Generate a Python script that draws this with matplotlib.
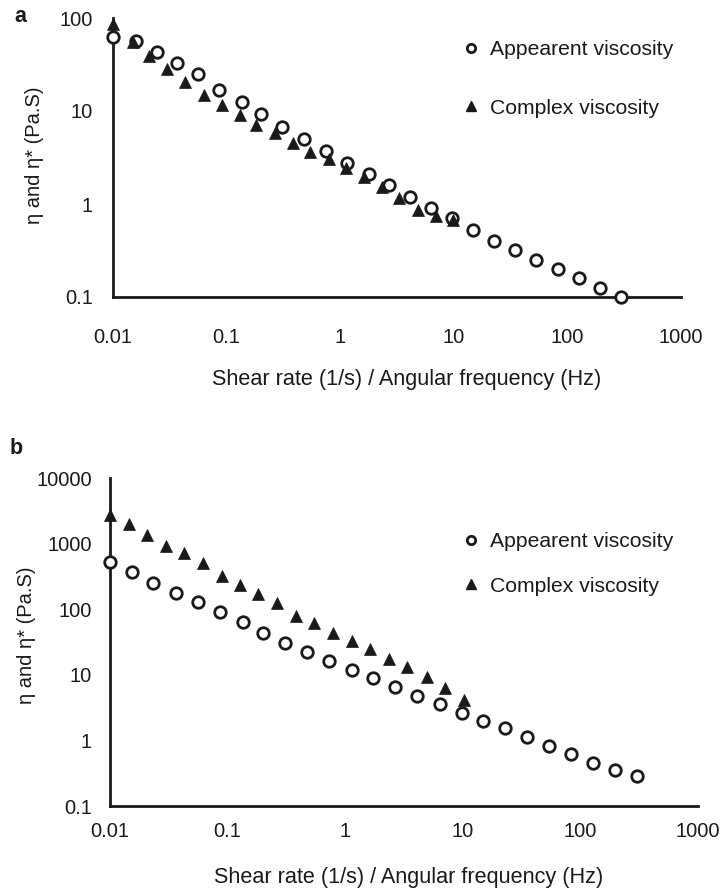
import matplotlib
matplotlib.use("Agg")
import matplotlib.pyplot as plt
from matplotlib.lines import Line2D

plt.rcParams['font.family'] = ['Liberation Sans', 'DejaVu Sans']

# ---- data -----------------------------------------------------------
x_ticks = [0.01, 0.1, 1, 10, 100, 1000]
x_tick_labels = ["0.01", "0.1", "1", "10", "100", "1000"]

# panel a
a_app_x = [0.01, 0.016, 0.0243, 0.0364, 0.0565, 0.0865, 0.136, 0.2, 0.31,
           0.48, 0.75, 1.15, 1.78, 2.67, 4.1, 6.3, 9.6, 14.8, 22.4, 34.4,
           53, 82, 126, 193, 297]
a_app_y = [63, 57, 43, 33, 25, 17, 12.6, 9.3, 6.7, 5.0, 3.74, 2.78, 2.1,
           1.6, 1.18, 0.90, 0.70, 0.525, 0.40, 0.32, 0.25, 0.20, 0.16,
           0.126, 0.10]
a_cpx_x = [0.01, 0.0151, 0.0209, 0.0297, 0.043, 0.0634, 0.091, 0.13, 0.182,
           0.267, 0.383, 0.545, 0.79, 1.13, 1.63, 2.33, 3.27, 4.8, 7.0, 9.8]
a_cpx_y = [86, 55.6, 39, 28, 20.6, 14.9, 11.6, 9.06, 7.07, 5.75, 4.56, 3.65,
           3.02, 2.42, 1.97, 1.53, 1.15, 0.86, 0.74, 0.67]
a_y_ticks = [0.1, 1, 10, 100]
a_y_tick_labels = ["0.1", "1", "10", "100"]

# panel b
b_app_x = [0.01, 0.0153, 0.0233, 0.0364, 0.0557, 0.0861, 0.134, 0.201,
           0.308, 0.477, 0.733, 1.14, 1.73, 2.63, 4.1, 6.4, 9.8, 14.9,
           22.8, 34.9, 54.4, 82.8, 129, 197, 303]
b_app_y = [530, 373, 254, 179, 130, 91.6, 64.5, 43.8, 30.8, 22.5, 16.4,
           11.8, 8.85, 6.59, 4.75, 3.59, 2.64, 2.0, 1.53, 1.11, 0.82, 0.62,
           0.457, 0.354, 0.284]
b_cpx_x = [0.01, 0.0146, 0.0207, 0.0299, 0.0426, 0.0614, 0.0891, 0.127,
           0.182, 0.262, 0.382, 0.546, 0.792, 1.14, 1.63, 2.35, 3.37, 4.93,
           7.06, 10.2]
b_cpx_y = [2730, 1990, 1352, 919, 711, 512, 321, 234, 171, 126, 78.8, 62.2,
           43.8, 33.1, 24.5, 17.2, 13.0, 9.16, 6.22, 4.13]
b_y_ticks = [0.1, 1, 10, 100, 1000, 10000]
b_y_tick_labels = ["0.1", "1", "10", "100", "1000", "10000"]

series_names = ["Appearent viscosity", "Complex viscosity"]
x_title = "Shear rate (1/s) / Angular frequency (Hz)"
y_title = "\u03b7 and \u03b7* (Pa.S)"

# ---- figure ---------------------------------------------------------
W, H = 722, 892
fig = plt.figure(figsize=(W / 100, H / 100), dpi=100)
INK = "#1a1a1a"
FS_TICK = 14.5
FS_LEG = 15.2
FS_TITLE = 15.6
FS_YLAB = 14.5


def frame(left, top, right, bottom):
    return [left / W, 1 - bottom / H, (right - left) / W, (bottom - top) / H]


def panel(rect, app_x, app_y, cpx_x, cpx_y, ylim, yt, ytl, xpad, ypad,
          leg_xy, leg_gap):
    ax = fig.add_axes(rect)
    ax.set_xscale("log")
    ax.set_yscale("log")
    ax.set_xlim(0.01, 1000)
    ax.set_ylim(*ylim)
    for s in ("top", "right"):
        ax.spines[s].set_visible(False)
    for s in ("left", "bottom"):
        ax.spines[s].set_linewidth(2.0)
        ax.spines[s].set_color(INK)
    ax.set_xticks(x_ticks, x_tick_labels)
    ax.set_yticks(yt, ytl)
    ax.minorticks_off()
    ax.tick_params(axis="x", length=0, pad=xpad, labelsize=FS_TICK,
                   colors=INK)
    ax.tick_params(axis="y", length=0, pad=ypad, labelsize=FS_TICK,
                   colors=INK)
    ax.plot(app_x, app_y, linestyle="none", marker="o", ms=8.3,
            mfc="white", mec=INK, mew=2.0, clip_on=False, zorder=3)
    ax.plot(cpx_x, cpx_y, linestyle="none", marker="^", ms=9,
            mfc=INK, mec=INK, mew=0.5, clip_on=False, zorder=4)
    handles = [
        Line2D([], [], linestyle="none", marker="o", ms=6, mfc="white",
               mec=INK, mew=2.0),
        Line2D([], [], linestyle="none", marker="^", ms=7, mfc=INK, mec=INK),
    ]
    ax.legend(handles, series_names, loc="center left",
              bbox_to_anchor=(leg_xy[0] / W, 1 - leg_xy[1] / H),
              bbox_transform=fig.transFigure, frameon=False, fontsize=FS_LEG,
              handlelength=0.8, handletextpad=0.5, labelspacing=leg_gap,
              borderpad=0, borderaxespad=0, labelcolor=INK)
    return ax


ax_a = panel(frame(113, 18, 681, 297), a_app_x, a_app_y, a_cpx_x, a_cpx_y,
             (0.1, 100), a_y_ticks, a_y_tick_labels, 22, 14.5,
             (463, 79), 1.85)
ax_b = panel(frame(110, 478, 698, 806), b_app_x, b_app_y, b_cpx_x, b_cpx_y,
             (0.1, 10000), b_y_ticks, b_y_tick_labels, 11.5, 13,
             (463, 564), 1.2)

fig.text(407, H - 379, x_title, fontsize=FS_TITLE, color=INK, ha="center",
         va="center", transform=None)
fig.text(409, H - 878, x_title, fontsize=FS_TITLE, color=INK, ha="center",
         va="center", transform=None)
fig.text(34, H - 155, y_title, fontsize=FS_YLAB, color=INK, rotation=90,
         ha="center", va="center", transform=None)
fig.text(26, H - 635, y_title, fontsize=FS_YLAB, color=INK, rotation=90,
         ha="center", va="center", transform=None)
fig.text(20, H - 17, "a", fontsize=15.5, fontweight="bold", color=INK,
         ha="center", va="center", transform=None)
fig.text(16, H - 448, "b", fontsize=15.5, fontweight="bold", color=INK,
         ha="center", va="center", transform=None)

fig.savefig("out.png", dpi=100)
